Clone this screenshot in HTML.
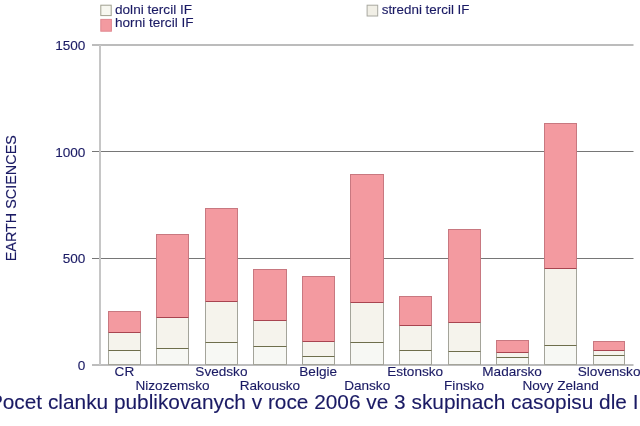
<!DOCTYPE html>
<html><head><meta charset="utf-8"><style>
html,body{margin:0;padding:0;background:#fff;width:640px;height:426px;overflow:hidden}
svg{display:block;will-change:transform}
text{font-family:"Liberation Sans", sans-serif;fill:#1a1a64;stroke:#1a1a64;stroke-width:0.12px}
</style></head><body>
<svg width="640" height="426" viewBox="0 0 640 426">
<rect x="0" y="0" width="640" height="426" fill="#ffffff"/>
<rect x="92" y="44" width="541.5" height="2" fill="#bcbcbc"/>
<rect x="92" y="151" width="541.5" height="1" fill="#767676"/>
<rect x="92" y="258" width="541.5" height="1" fill="#767676"/>
<rect x="92" y="364" width="541.5" height="2" fill="#bdbdbd"/>
<rect x="99" y="45" width="2" height="320" fill="#c6c6c6"/>
<rect x="108.5" y="311.5" width="32.0" height="21.0" fill="#f39aa0" stroke="#c87880" stroke-width="1"/>
<rect x="108.5" y="332.5" width="32.0" height="18.0" fill="#f5f3ec" stroke="#a4a49a" stroke-width="1"/>
<rect x="108.5" y="350.5" width="32.0" height="14.0" fill="#f7f8f4" stroke="#a4a49a" stroke-width="1"/>
<line x1="108.5" x2="140.5" y1="332.5" y2="332.5" stroke="#a84450" stroke-width="1"/>
<line x1="108.5" x2="140.5" y1="350.5" y2="350.5" stroke="#6e6e4c" stroke-width="1"/>
<text x="124.4" y="376.0" text-anchor="middle" font-size="13.6">CR</text>
<rect x="156.5" y="234.5" width="32.0" height="83.0" fill="#f39aa0" stroke="#c87880" stroke-width="1"/>
<rect x="156.5" y="317.5" width="32.0" height="31.0" fill="#f5f3ec" stroke="#a4a49a" stroke-width="1"/>
<rect x="156.5" y="348.5" width="32.0" height="16.0" fill="#f7f8f4" stroke="#a4a49a" stroke-width="1"/>
<line x1="156.5" x2="188.5" y1="317.5" y2="317.5" stroke="#a84450" stroke-width="1"/>
<line x1="156.5" x2="188.5" y1="348.5" y2="348.5" stroke="#6e6e4c" stroke-width="1"/>
<text x="172.5" y="390.0" text-anchor="middle" font-size="13.6">Nizozemsko</text>
<rect x="205.5" y="208.5" width="32.0" height="93.0" fill="#f39aa0" stroke="#c87880" stroke-width="1"/>
<rect x="205.5" y="301.5" width="32.0" height="41.0" fill="#f5f3ec" stroke="#a4a49a" stroke-width="1"/>
<rect x="205.5" y="342.5" width="32.0" height="22.0" fill="#f7f8f4" stroke="#a4a49a" stroke-width="1"/>
<line x1="205.5" x2="237.5" y1="301.5" y2="301.5" stroke="#a84450" stroke-width="1"/>
<line x1="205.5" x2="237.5" y1="342.5" y2="342.5" stroke="#6e6e4c" stroke-width="1"/>
<text x="221.4" y="376.0" text-anchor="middle" font-size="13.6">Svedsko</text>
<rect x="253.5" y="269.5" width="33.0" height="51.0" fill="#f39aa0" stroke="#c87880" stroke-width="1"/>
<rect x="253.5" y="320.5" width="33.0" height="26.0" fill="#f5f3ec" stroke="#a4a49a" stroke-width="1"/>
<rect x="253.5" y="346.5" width="33.0" height="18.0" fill="#f7f8f4" stroke="#a4a49a" stroke-width="1"/>
<line x1="253.5" x2="286.5" y1="320.5" y2="320.5" stroke="#a84450" stroke-width="1"/>
<line x1="253.5" x2="286.5" y1="346.5" y2="346.5" stroke="#6e6e4c" stroke-width="1"/>
<text x="269.9" y="390.0" text-anchor="middle" font-size="13.6">Rakousko</text>
<rect x="302.5" y="276.5" width="32.0" height="65.0" fill="#f39aa0" stroke="#c87880" stroke-width="1"/>
<rect x="302.5" y="341.5" width="32.0" height="15.0" fill="#f5f3ec" stroke="#a4a49a" stroke-width="1"/>
<rect x="302.5" y="356.5" width="32.0" height="8.0" fill="#f7f8f4" stroke="#a4a49a" stroke-width="1"/>
<line x1="302.5" x2="334.5" y1="341.5" y2="341.5" stroke="#a84450" stroke-width="1"/>
<line x1="302.5" x2="334.5" y1="356.5" y2="356.5" stroke="#6e6e4c" stroke-width="1"/>
<text x="318.2" y="376.0" text-anchor="middle" font-size="13.6">Belgie</text>
<rect x="350.5" y="174.5" width="33.0" height="128.0" fill="#f39aa0" stroke="#c87880" stroke-width="1"/>
<rect x="350.5" y="302.5" width="33.0" height="40.0" fill="#f5f3ec" stroke="#a4a49a" stroke-width="1"/>
<rect x="350.5" y="342.5" width="33.0" height="22.0" fill="#f7f8f4" stroke="#a4a49a" stroke-width="1"/>
<line x1="350.5" x2="383.5" y1="302.5" y2="302.5" stroke="#a84450" stroke-width="1"/>
<line x1="350.5" x2="383.5" y1="342.5" y2="342.5" stroke="#6e6e4c" stroke-width="1"/>
<text x="367.2" y="390.0" text-anchor="middle" font-size="13.6">Dansko</text>
<rect x="399.5" y="296.5" width="32.0" height="29.0" fill="#f39aa0" stroke="#c87880" stroke-width="1"/>
<rect x="399.5" y="325.5" width="32.0" height="25.0" fill="#f5f3ec" stroke="#a4a49a" stroke-width="1"/>
<rect x="399.5" y="350.5" width="32.0" height="14.0" fill="#f7f8f4" stroke="#a4a49a" stroke-width="1"/>
<line x1="399.5" x2="431.5" y1="325.5" y2="325.5" stroke="#a84450" stroke-width="1"/>
<line x1="399.5" x2="431.5" y1="350.5" y2="350.5" stroke="#6e6e4c" stroke-width="1"/>
<text x="415.2" y="376.0" text-anchor="middle" font-size="13.6">Estonsko</text>
<rect x="448.5" y="229.5" width="32.0" height="93.0" fill="#f39aa0" stroke="#c87880" stroke-width="1"/>
<rect x="448.5" y="322.5" width="32.0" height="29.0" fill="#f5f3ec" stroke="#a4a49a" stroke-width="1"/>
<rect x="448.5" y="351.5" width="32.0" height="13.0" fill="#f7f8f4" stroke="#a4a49a" stroke-width="1"/>
<line x1="448.5" x2="480.5" y1="322.5" y2="322.5" stroke="#a84450" stroke-width="1"/>
<line x1="448.5" x2="480.5" y1="351.5" y2="351.5" stroke="#6e6e4c" stroke-width="1"/>
<text x="464.1" y="390.0" text-anchor="middle" font-size="13.6">Finsko</text>
<rect x="496.5" y="340.5" width="32.0" height="12.0" fill="#f39aa0" stroke="#c87880" stroke-width="1"/>
<rect x="496.5" y="352.5" width="32.0" height="5.0" fill="#f5f3ec" stroke="#a4a49a" stroke-width="1"/>
<rect x="496.5" y="357.5" width="32.0" height="7.0" fill="#f7f8f4" stroke="#a4a49a" stroke-width="1"/>
<line x1="496.5" x2="528.5" y1="352.5" y2="352.5" stroke="#a84450" stroke-width="1"/>
<line x1="496.5" x2="528.5" y1="357.5" y2="357.5" stroke="#6e6e4c" stroke-width="1"/>
<text x="512.1" y="376.0" text-anchor="middle" font-size="13.6">Madarsko</text>
<rect x="544.5" y="123.5" width="32.0" height="145.0" fill="#f39aa0" stroke="#c87880" stroke-width="1"/>
<rect x="544.5" y="268.5" width="32.0" height="77.0" fill="#f5f3ec" stroke="#a4a49a" stroke-width="1"/>
<rect x="544.5" y="345.5" width="32.0" height="19.0" fill="#f7f8f4" stroke="#a4a49a" stroke-width="1"/>
<line x1="544.5" x2="576.5" y1="268.5" y2="268.5" stroke="#a84450" stroke-width="1"/>
<line x1="544.5" x2="576.5" y1="345.5" y2="345.5" stroke="#6e6e4c" stroke-width="1"/>
<text x="560.6" y="390.0" text-anchor="middle" font-size="13.6">Novy Zeland</text>
<rect x="593.5" y="341.5" width="31.0" height="9.0" fill="#f39aa0" stroke="#c87880" stroke-width="1"/>
<rect x="593.5" y="350.5" width="31.0" height="5.0" fill="#f5f3ec" stroke="#a4a49a" stroke-width="1"/>
<rect x="593.5" y="355.5" width="31.0" height="9.0" fill="#f7f8f4" stroke="#a4a49a" stroke-width="1"/>
<line x1="593.5" x2="624.5" y1="350.5" y2="350.5" stroke="#a84450" stroke-width="1"/>
<line x1="593.5" x2="624.5" y1="355.5" y2="355.5" stroke="#6e6e4c" stroke-width="1"/>
<text x="609.1" y="376.0" text-anchor="middle" font-size="13.6">Slovensko</text>
<text x="85.4" y="370.2" text-anchor="end" font-size="13.6">0</text>
<text x="85.4" y="263.4" text-anchor="end" font-size="13.6">500</text>
<text x="85.4" y="156.6" text-anchor="end" font-size="13.6">1000</text>
<text x="85.4" y="49.8" text-anchor="end" font-size="13.6">1500</text>
<text transform="translate(15.8,198.2) rotate(-90)" text-anchor="middle" font-size="14.4">EARTH SCIENCES</text>
<rect x="100.8" y="5.2" width="10.4" height="10.4" fill="#f7f7f0" stroke="#a0a090" stroke-width="1"/>
<rect x="100.8" y="19.4" width="10.6" height="11.8" fill="#f39aa0" stroke="#e08890" stroke-width="1"/>
<rect x="367.1" y="5.2" width="10.6" height="10.8" fill="#f1efe6" stroke="#a8a8a0" stroke-width="1"/>
<text x="115" y="14" font-size="13.6">dolni tercil IF</text>
<text x="115" y="27.3" font-size="13.6">horni tercil IF</text>
<text x="381.7" y="14" font-size="13.4">stredni tercil IF</text>
<text x="320" y="408.8" text-anchor="middle" font-size="20.84">Pocet clanku publikovanych v roce 2006 ve 3 skupinach casopisu dle IF</text>
</svg>
</body></html>
